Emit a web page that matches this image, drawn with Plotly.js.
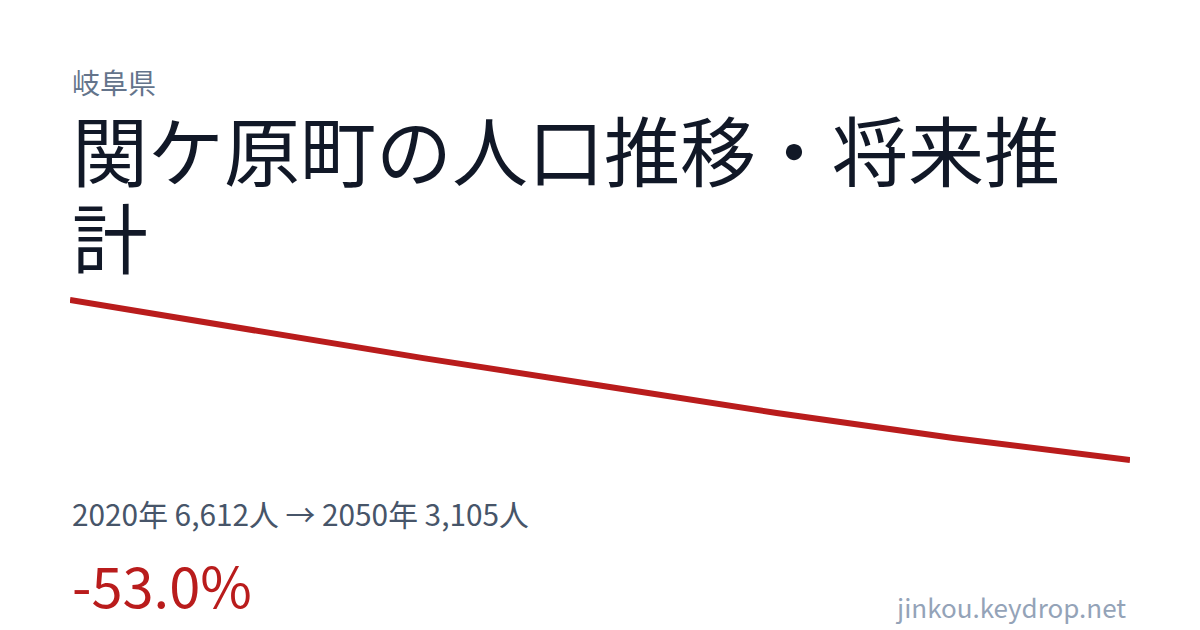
<!DOCTYPE html>
<html>
<head>
<meta charset="utf-8">
<script src="https://cdn.plot.ly/plotly-3.0.1.min.js"></script>
<style>
  html, body { margin: 0; padding: 0; background: #ffffff; }
  #chart { width: 1200px; height: 630px; }
</style>
</head>
<body>
<div id="chart"></div>
<script>
// 国勢調査(2020)と将来推計
const years = [2020, 2025, 2030, 2035, 2040, 2045, 2050];
const population = [6612, 5972, 5338, 4738, 4135, 3589, 3105];

const prefName = '岐阜県';
const titleLine1 = '関ケ原町の人口推移・将来推';
const titleLine2 = '計';
const siteName = 'jinkou.keydrop.net';

function drawChart() {
  const first = population[0];
  const last = population[population.length - 1];
  const change = ((last / first - 1) * 100).toFixed(1);
  const statsText = years[0] + '年 ' + first.toLocaleString('en-US') + '人 → ' +
    years[years.length - 1] + '年 ' + last.toLocaleString('en-US') + '人';

  // 線が上下で切れないように少し余白を取る
  const pad = (first - last) * 0.0625;
  const font = '"Noto Sans CJK JP", "Noto Sans", sans-serif';

  const trace = {
    x: years,
    y: population,
    type: 'scatter',
    mode: 'lines',
    line: { color: '#b91c1c', width: 6 },
    hoverinfo: 'skip'
  };

  const layout = {
    width: 1200,
    height: 630,
    margin: { l: 70, r: 70, t: 290, b: 160 },
    paper_bgcolor: '#ffffff',
    plot_bgcolor: '#ffffff',
    showlegend: false,
    xaxis: {
      range: [years[0], years[years.length - 1]],
      visible: false,
      fixedrange: true
    },
    yaxis: {
      range: [last - pad, first + pad],
      visible: false,
      fixedrange: true
    },
    annotations: [
      {
        text: prefName, xref: 'paper', yref: 'paper', x: 0, y: 2.1556,
        xanchor: 'left', yanchor: 'middle', showarrow: false,
        font: { family: font, size: 28, color: '#64748b' }
      },
      {
        text: titleLine1, xref: 'paper', yref: 'paper', x: 0, y: 1.7889,
        xanchor: 'left', yanchor: 'middle', showarrow: false,
        font: { family: font, size: 76, color: '#111827' }
      },
      {
        text: titleLine2, xref: 'paper', yref: 'paper', x: 0, y: 1.3056,
        xanchor: 'left', yanchor: 'middle', showarrow: false,
        font: { family: font, size: 76, color: '#111827' }
      },
      {
        text: statsText, xref: 'paper', yref: 'paper', x: 0, y: -0.2389,
        xanchor: 'left', yanchor: 'middle', showarrow: false,
        font: { family: font, size: 29.8, color: '#475569' }
      },
      {
        text: change + '%', xref: 'paper', yref: 'paper', x: 0, y: -0.6333,
        xanchor: 'left', yanchor: 'middle', showarrow: false,
        font: { family: font, size: 56, color: '#b91c1c' }
      },
      {
        text: siteName, xref: 'paper', yref: 'paper', x: 0.9981, y: -0.7611,
        xanchor: 'right', yanchor: 'middle', showarrow: false,
        font: { family: font, size: 26, color: '#94a3b8' }
      }
    ]
  };

  const config = { displayModeBar: false, staticPlot: true };

  Plotly.newPlot(document.getElementById('chart'), [trace], layout, config);
}
drawChart();
</script>
</body>
</html>
